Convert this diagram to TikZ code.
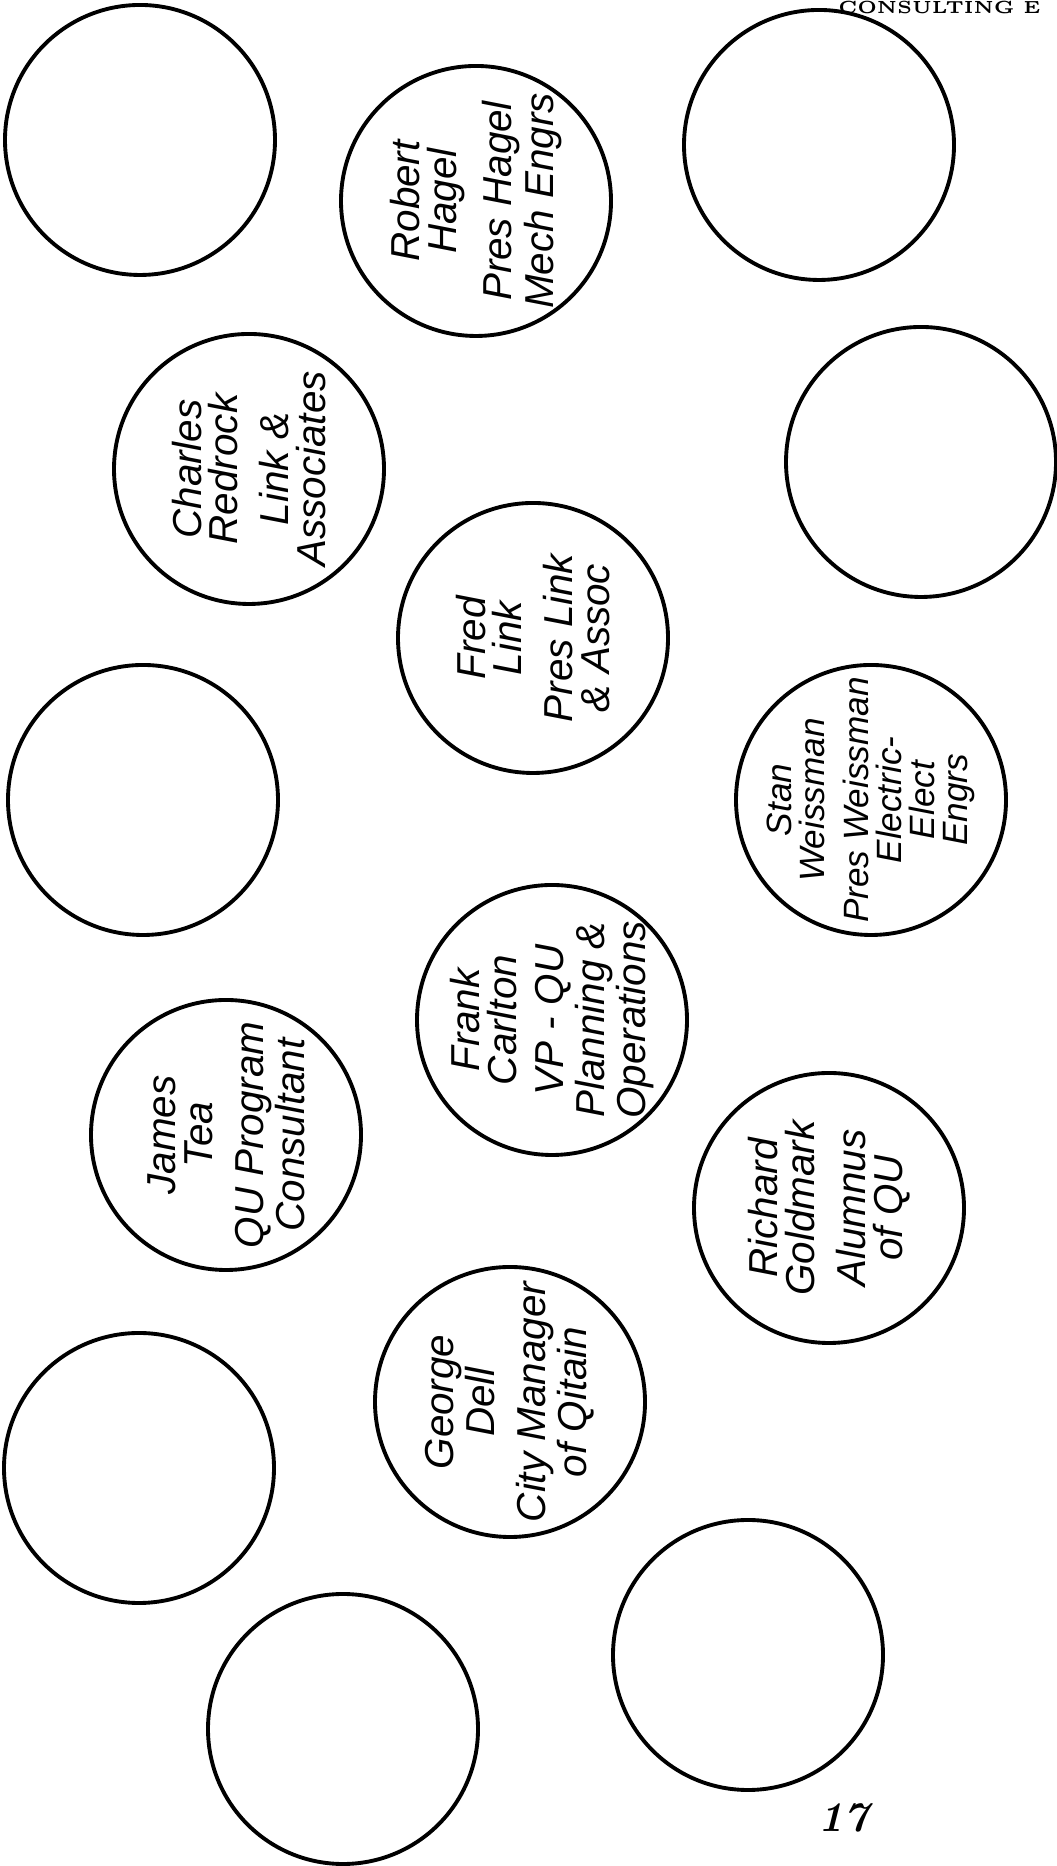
\documentclass[tikz,border=0pt]{standalone}
\usepackage{fontspec}
\usepackage{tikz}
\newfontfamily\handfont{Liberation Sans}

\begin{document}
\begin{tikzpicture}
	    \tikzstyle{seat}=[draw,line width=1.1pt,shape=circle,inner sep=0pt,minimum size=2.7cm]
	    \tikzstyle{guest}=[rotate=90,align=center,inner sep=0pt,font=\handfont\itshape\fontsize{11.5}{10.5}\selectfont]
	    \useasboundingbox (0,0) rectangle (10.56,18.66);

	    % empty seats
	    \node[seat](e1) at (1.40,17.26){};
	    \node[seat](e2) at (8.19,17.21){};
	    \node[seat](e3) at (9.21,14.04){};
	    \node[seat](e4) at (1.43,10.66){};
	    \node[seat](e5) at (1.39,3.98){};
	    \node[seat](e6) at (3.43,1.37){};
	    \node[seat](e7) at (7.48,2.11){};

	    % seats with names
	    \node[seat](p1) at (4.76,16.65){};
	    \node[seat](p2) at (2.49,13.97){};
	    \node[seat](p3) at (5.33,12.28){};
	    \node[seat](p4) at (8.71,10.66){};
	    \node[seat](p5) at (5.52,8.46){};
	    \node[seat](p6) at (2.26,7.31){};
	    \node[seat](p7) at (8.29,6.58){};
	    \node[seat](p8) at (5.10,4.64){};

	    \node[guest](n1) at (p1){Robert\\Hagel\\[4pt]Pres Hagel\\Mech Engrs};
	    \node[guest](n2) at (p2){Charles\\Redrock\\[4pt]Link \&\\Associates};
	    \node[guest](n3) at (p3){Fred\\Link\\[4pt]Pres Link\\\& Assoc};
	    \node[guest,font=\handfont\itshape\fontsize{10}{9.4}\selectfont](n4) at (p4){Stan\\Weissman\\[3pt]Pres Weissman\\Electric-\\Elect\\Engrs};
	    \node[guest](n5) at (p5){Frank\\Carlton\\[3pt]VP - QU\\Planning \&\\Operations};
	    \node[guest](n6) at (p6){James\\Tea\\[4pt]QU Program\\Consultant};
	    \node[guest](n7) at (p7){Richard\\Goldmark\\[4pt]Alumnus\\of QU};
	    \node[guest](n8) at (p8){George\\Dell\\[4pt]City Manager\\of Qitain};

	    \node[anchor=base east,font=\bfseries\fontsize{5}{6}\selectfont](hd) at (10.53,18.52){CONSULTING E};
	    \node[font=\bfseries\itshape\fontsize{12}{12}\selectfont](pg) at (8.43,0.48){17};
\end{tikzpicture}
\end{document}
